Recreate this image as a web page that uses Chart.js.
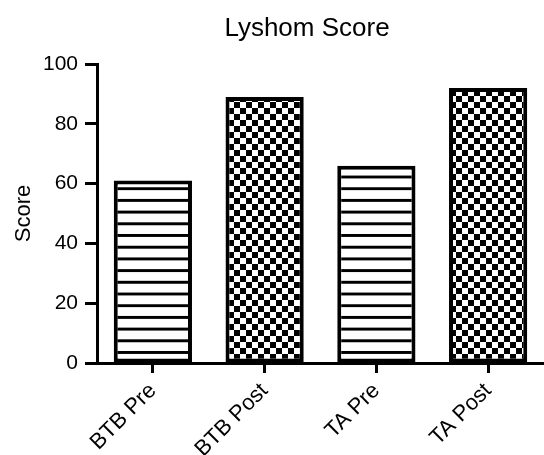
<!DOCTYPE html>
<html>
<head>
<meta charset="utf-8">
<script src="https://cdn.jsdelivr.net/npm/chart.js@4.4.0/dist/chart.umd.min.js"></script>
<style>
html,body{margin:0;padding:0;background:#fff;}
#wrap{width:544px;height:455px;position:relative;}
</style>
</head>
<body>
<div id="wrap"><canvas id="c" width="544" height="455"></canvas></div>
<script>
const categories = ["BTB Pre", "BTB Post", "TA Pre", "TA Post"];
const scores = [61, 89, 66, 92];
const fills = ["stripes", "checker", "stripes", "checker"];
const yTicks = [0, 20, 40, 60, 80, 100];
const titleText = "Lyshom Score";
const yLabel = "Score";

function makeStripes() {
  const c = document.createElement('canvas');
  c.width = 12; c.height = 12;
  const g = c.getContext('2d');
  g.fillStyle = '#fff'; g.fillRect(0, 0, 12, 12);
  g.fillStyle = '#000'; g.fillRect(0, 0, 12, 3);
  const ctx = document.getElementById('c').getContext('2d');
  const p = ctx.createPattern(c, 'repeat');
  try { p.setTransform(new DOMMatrix().scale(1, 11.7/12)); } catch (e) {}
  return p;
}
function makeChecker() {
  const c = document.createElement('canvas');
  c.width = 12; c.height = 12;
  const g = c.getContext('2d');
  g.fillStyle = '#fff'; g.fillRect(0, 0, 12, 12);
  g.fillStyle = '#000';
  g.fillRect(0, 0, 6, 6); g.fillRect(6, 6, 6, 6);
  const ctx = document.getElementById('c').getContext('2d');
  return ctx.createPattern(c, 'repeat');
}
const patterns = { stripes: makeStripes(), checker: makeChecker() };

const FONT = "'Liberation Sans', Arial, Helvetica, sans-serif";

const titlePlugin = {
  id: 'customTitle',
  afterDraw(chart) {
    const ctx = chart.ctx;
    ctx.save();
    ctx.fillStyle = '#000';
    ctx.font = "26px " + FONT;
    ctx.textAlign = 'center';
    ctx.textBaseline = 'alphabetic';
    ctx.fillText(titleText, 307, 36);
    ctx.restore();
  }
};

new Chart(document.getElementById('c'), {
  type: 'bar',
  data: {
    labels: categories,
    datasets: [{
      data: scores,
      backgroundColor: fills.map(f => patterns[f]),
      borderColor: '#000',
      borderWidth: 4,
      borderSkipped: false,
      barPercentage: 0.7,
      categoryPercentage: 1.0
    }]
  },
  options: {
    responsive: false,
    animation: false,
    devicePixelRatio: 1,
    layout: { padding: { top: 64, right: 0, left: 0, bottom: 0 } },
    plugins: { legend: { display: false }, tooltip: { enabled: false }, title: { display: false } },
    scales: {
      x: {
        offset: true,
        grid: { offset: false, drawOnChartArea: false, drawTicks: true, tickLength: 10, tickWidth: 3, color: '#000' },
        border: { display: true, width: 3, color: '#000' },
        ticks: { color: '#000', font: { family: FONT, size: 22 }, maxRotation: 45, minRotation: 45, padding: 5 },
        afterFit(s) { s.height = 92; }
      },
      y: {
        min: 0, max: 100,
        afterBuildTicks(s) { s.ticks = yTicks.map(v => ({ value: v })); },
        grid: { drawOnChartArea: false, drawTicks: true, tickLength: 12, tickWidth: 3, color: '#000' },
        border: { display: true, width: 3, color: '#000' },
        ticks: { color: '#000', font: { family: FONT, size: 21 }, padding: 7 },
        title: { display: true, text: yLabel, color: '#000', font: { family: FONT, size: 22 }, padding: { top: 11, bottom: 0 } },
        afterFit(s) { s.width = 97; }
      }
    }
  },
  plugins: [titlePlugin]
});
</script>
</body>
</html>
